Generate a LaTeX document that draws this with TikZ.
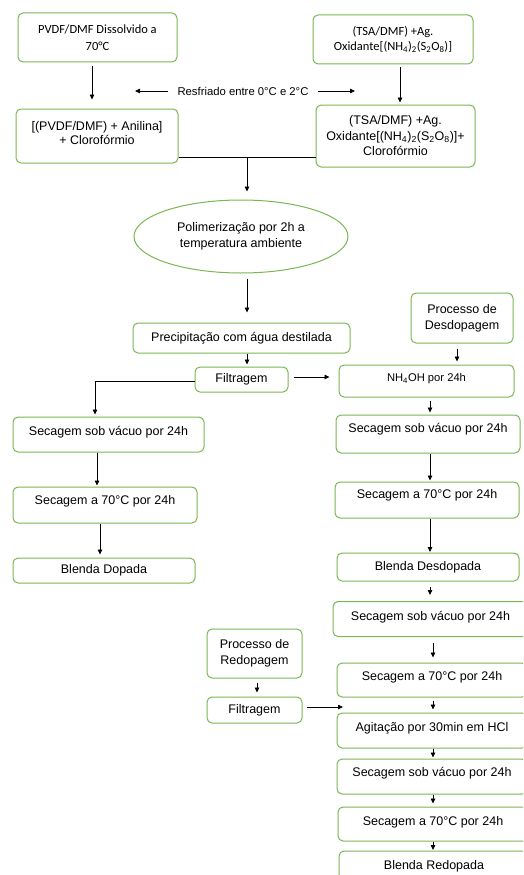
\documentclass[tikz,border=0pt]{standalone}
\usepackage{fontspec}
\setmainfont{Liberation Sans}
\newfontfamily\calib{Carlito}
\usetikzlibrary{arrows.meta,shapes.geometric}
\definecolor{gr}{RGB}{122,182,82}
\newcommand\fs{\fontsize{12.5}{15.5}\selectfont}
\newcommand\up[2]{\raisebox{#1}[\height][\depth]{#2}}
\begin{document}
\begin{tikzpicture}[x=1pt,y=-1pt,
  bx/.style={draw=gr, line width=1pt, rounded corners=5pt, fill=white, align=center, inner sep=0pt, font=\fs},
  arr/.style={-{Triangle[length=5pt,width=4.5pt]}, line width=0.8pt},
  ln/.style={line width=0.8pt}]
\useasboundingbox (0,0) rectangle (523,875);
\clip (0,0) rectangle (523,875);
% coordinates
\coordinate (xa) at (92,0);
\coordinate (xb) at (400,0);
\coordinate (m) at (247,157);
\coordinate (hy) at (0,377);
\coordinate (xd) at (457,0);
\coordinate (xe) at (430,0);
\coordinate (xf) at (433,0);
\coordinate (xg) at (97,0);
\coordinate (xh) at (100,0);
\coordinate (xi) at (257,0);
\coordinate (fl) at (95,381);
\coordinate (rfl) at (135,91);
\coordinate (rfr) at (355,91);
\coordinate (ra) at (343,707);
% top
\node[bx, minimum width=159pt, minimum height=49pt, font=\calib\fontsize{12.5}{17.5}\selectfont] (b1) at (97.5,37.5) {PVDF/DMF Dissolvido a\\70°C};
\node[bx, minimum width=160pt, minimum height=49pt, font=\calib\fontsize{12.5}{15}\selectfont] (b2) at (393,39.5) {(TSA/DMF) +Ag.\\Oxidante[(NH\textsubscript{4})\textsubscript{2}(S\textsubscript{2}O\textsubscript{8})]};
\node[bx, minimum width=162pt, minimum height=54pt, font=\fontsize{12.5}{14.5}\selectfont] (b3) at (97,136) {\up{3pt}{[(PVDF/DMF) + Anilina]}\\\up{3pt}{+ Clorofórmio}};
\node[bx, minimum width=159pt, minimum height=62pt] (b4) at (395.5,136) {(TSA/DMF) +Ag.\\Oxidante[(NH\textsubscript{4})\textsubscript{2}(S\textsubscript{2}O\textsubscript{8})]+\\Clorofórmio};
\node[inner xsep=9pt, inner ysep=2pt, font=\fontsize{11.3}{13}\selectfont] (rf) at (243,91) {Resfriado entre 0°C e 2°C};
% middle
\node[draw=gr, line width=1pt, ellipse, minimum width=214pt, minimum height=73pt, inner sep=0pt, align=center, font=\fontsize{12.5}{16}\selectfont] (el) at (241,236.5) {Polimerização por 2h a\\temperatura ambiente};
\node[bx, minimum width=217pt, minimum height=30pt] (prec) at (241.5,338) {Precipitação com água destilada};
\node[bx, minimum width=93pt, minimum height=25pt] (filt) at (241.5,379.5) {Filtragem};
\node[bx, minimum width=102pt, minimum height=50pt, font=\fontsize{12.5}{16}\selectfont] (desd) at (462,318) {Processo de\\Desdopagem};
\node[bx, minimum width=175pt, minimum height=32pt, font=\fontsize{11.2}{13}\selectfont] (nh) at (426.5,381) {\up{2pt}{NH\textsubscript{4}OH por 24h}};
% left column
\node[bx, minimum width=191pt, minimum height=35pt] (ls1) at (108.5,434.5) {\up{2.5pt}{Secagem sob vácuo por 24h}};
\node[bx, minimum width=184pt, minimum height=36pt] (l70) at (105,505) {\up{4pt}{Secagem a 70°C por 24h}};
\node[bx, minimum width=182pt, minimum height=25pt] (lbd) at (104,570.5) {Blenda Dopada};
% right column
\node[bx, minimum width=184pt, minimum height=38pt] (rs1) at (428,434) {\up{5pt}{Secagem sob vácuo por 24h}};
\node[bx, minimum width=184pt, minimum height=36pt] (r70) at (427,500) {\up{5pt}{Secagem a 70°C por 24h}};
\node[bx, minimum width=182pt, minimum height=28pt] (rbd) at (428,567) {Blenda Desdopada};
\node[bx, minimum width=195pt, minimum height=35pt] (rs2) at (430.5,619) {\up{2pt}{Secagem sob vácuo por 24h}};
\node[bx, minimum width=190pt, minimum height=34pt] (r70b) at (432,680) {\up{3pt}{Secagem a 70°C por 24h}};
\node[bx, minimum width=190pt, minimum height=35pt] (ag) at (432,730.5) {\up{2.5pt}{Agitação por 30min em HCl}};
\node[bx, minimum width=190pt, minimum height=35pt] (rs3) at (432,776.5) {\up{3.5pt}{Secagem sob vácuo por 24h}};
\node[bx, minimum width=190pt, minimum height=34pt] (r70c) at (433,824) {\up{2pt}{Secagem a 70°C por 24h}};
\node[bx, minimum width=190pt, minimum height=30pt] (red) at (434,866) {Blenda Redopada};
% redopagem
\node[bx, minimum width=95pt, minimum height=49pt, font=\fontsize{12.5}{16}\selectfont] (redop) at (254.5,653.5) {Processo de\\Redopagem};
\node[bx, minimum width=95pt, minimum height=26pt] (filt2) at (254.5,710) {Filtragem};
% connectors
\draw[arr, shorten <=4pt, shorten >=9pt] (b1.south -| xa) -- (b3.north -| xa);
\draw[arr, shorten <=3pt, shorten >=2pt] (b2.south -| xb) -- (b4.north -| xb);
\draw[arr] (rf.west) -- (rfl);
\draw[arr] (rf.east) -- (rfr);
\draw[ln] (b3.east |- m) -- (b4.west |- m);
\draw[arr, shorten >=8pt] (m) -- (el.north -| m);
\draw[arr, shorten <=5pt, shorten >=10pt] (el.south -| m) -- (prec.north -| m);
\draw[arr, shorten >=2pt] (prec.south -| m) -- (filt.north -| m);
\draw[arr, shorten <=5pt, shorten >=9pt] (filt.east |- hy) -- (nh.west |- hy);
\draw[arr, shorten >=2pt] (filt.west |- fl) -- (fl) -- (ls1.north -| fl);
\draw[arr, shorten <=5pt, shorten >=3pt] (desd.south -| xd) -- (nh.north -| xd);
\draw[arr, shorten <=3pt, shorten >=2pt] (nh.south -| xe) -- (rs1.north -| xe);
\draw[arr, shorten >=1pt] (rs1.south -| xe) -- (r70.north -| xe);
\draw[arr, shorten >=0.5pt] (r70.south -| xe) -- (rbd.north -| xe);
\draw[arr, shorten <=5pt, shorten >=6pt] (rbd.south -| xe) -- (rs2.north -| xe);
\draw[arr, shorten <=6pt, shorten >=5pt] (rs2.south -| xf) -- (r70b.north -| xf);
\draw[arr, shorten <=3pt, shorten >=3pt] (r70b.south -| xf) -- (ag.north -| xf);
\draw[arr, shorten >=1pt] (ag.south -| xf) -- (rs3.north -| xf);
\draw[arr, shorten >=3pt] (rs3.south -| xf) -- (r70c.north -| xf);
\draw[arr, shorten >=0.5pt] (r70c.south -| xf) -- (red.north -| xf);
\draw[arr, shorten >=1pt] (ls1.south -| xg) -- (l70.north -| xg);
\draw[arr, shorten >=3pt] (l70.south -| xh) -- (lbd.north -| xh);
\draw[arr, shorten <=4pt, shorten >=4pt] (redop.south -| xi) -- (filt2.north -| xi);
\draw[arr, shorten <=4pt] (filt2.east |- ra) -- (ra);
\end{tikzpicture}
\end{document}
